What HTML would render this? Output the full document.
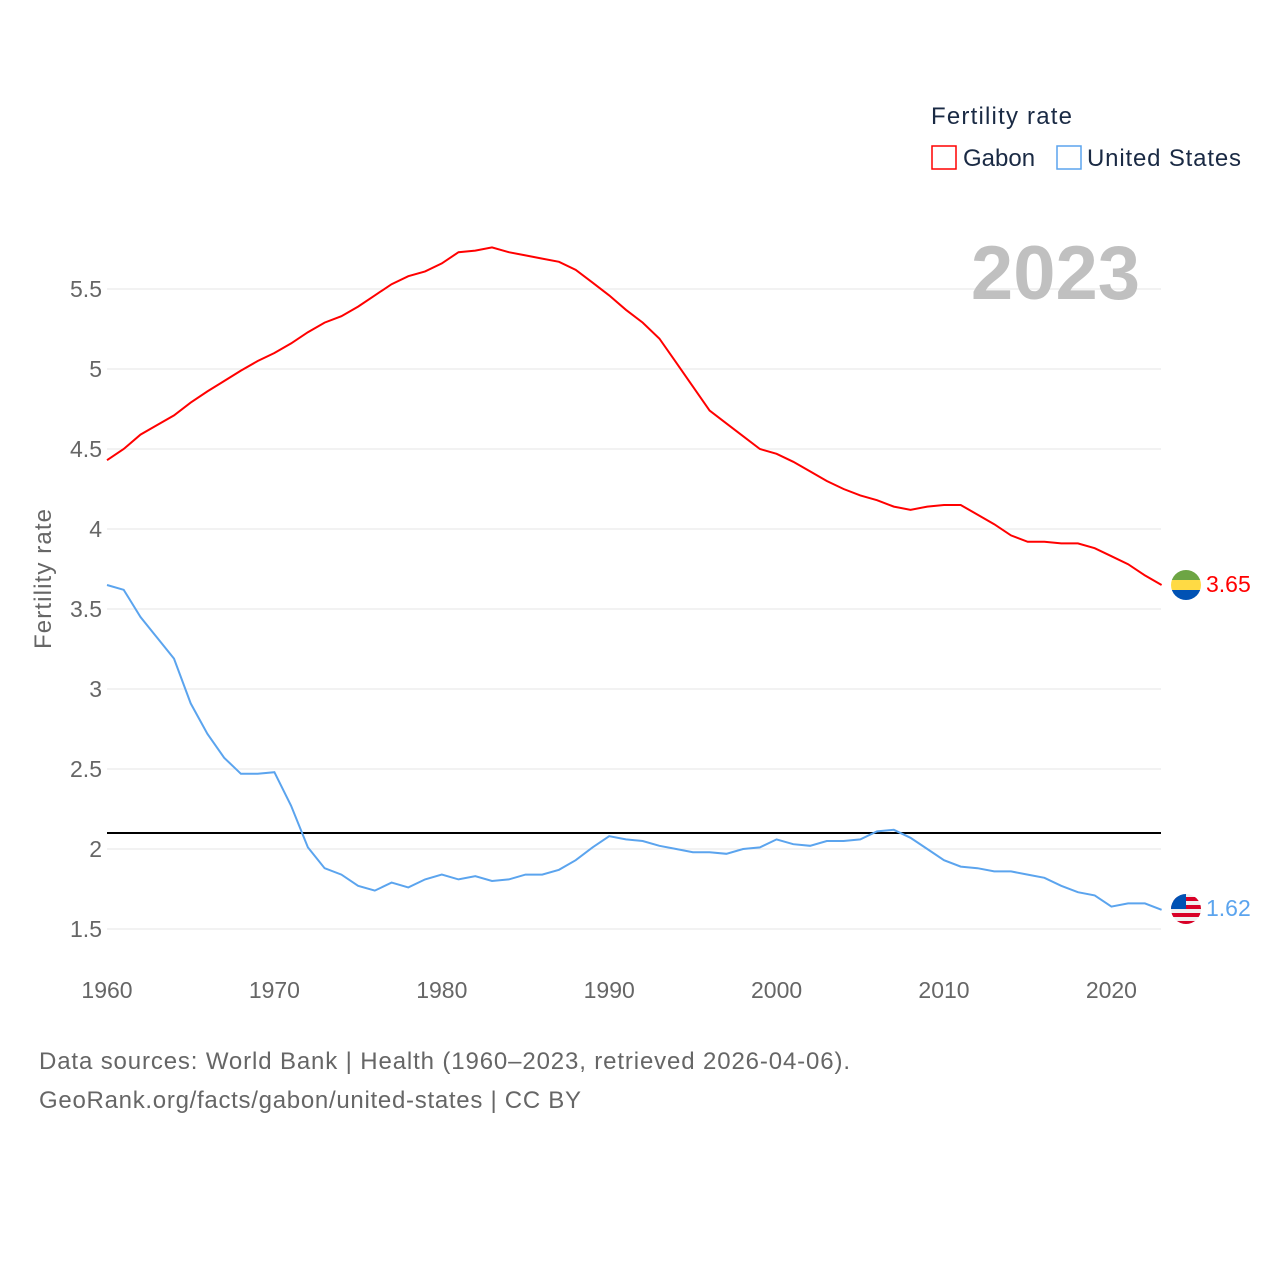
<!DOCTYPE html>
<html><head><meta charset="utf-8">
<style>
body{margin:0;background:#fff;font-family:"Liberation Sans",sans-serif;}
svg text{font-family:"Liberation Sans",sans-serif;}
</style></head>
<body>
<svg width="1280" height="1280" viewBox="0 0 1280 1280">
<g id="grid"></g>
<g id="yticks"></g>
<g id="xticks"></g>
<text x="51" y="579" transform="rotate(-90 51 579)" text-anchor="middle" font-size="24" fill="#666" textLength="140">Fertility rate</text>
<text x="1140" y="299" text-anchor="end" font-size="76" font-weight="bold" fill="#c0c0c0">2023</text>
<line id="refline" x1="107" x2="1161" stroke="#000" stroke-width="2"/>
<path id="gabon" fill="none" stroke="#ff0000" stroke-width="2"/>
<path id="us" fill="none" stroke="#5ba4ee" stroke-width="2"/>
<g>
<clipPath id="cg"><circle cx="1186" cy="585" r="15"/></clipPath>
<g clip-path="url(#cg)"><rect x="1170" y="570" width="32" height="10" fill="#6da544"/><rect x="1170" y="580" width="32" height="10" fill="#ffda44"/><rect x="1170" y="590" width="32" height="12" fill="#0052b4"/></g>
</g>
<text x="1206" y="592" font-size="23" fill="#ff0000">3.65</text>
<g>
<clipPath id="cu"><circle cx="1186" cy="909" r="15"/></clipPath>
<g clip-path="url(#cu)"><rect x="1170" y="893" width="32" height="32" fill="#f0f0f0"/>
<rect x="1170" y="897" width="32" height="4" fill="#d80027"/><rect x="1170" y="905" width="32" height="4" fill="#d80027"/><rect x="1170" y="913" width="32" height="4" fill="#d80027"/><rect x="1170" y="921" width="32" height="4" fill="#d80027"/>
<rect x="1170" y="893" width="16" height="16" fill="#0052b4"/></g>
</g>
<text x="1206" y="916" font-size="23" fill="#5ba4ee">1.62</text>
<text x="931" y="124" font-size="24" fill="#1a2a44" textLength="141">Fertility rate</text>
<g>
<rect x="932" y="146" width="24" height="23" fill="none" stroke="#ff0000" stroke-width="1.5"/>
<text x="963" y="166" font-size="24" fill="#1a2a44">Gabon</text></g>
<g>
<rect x="1057" y="146" width="24" height="23" fill="none" stroke="#5ba4ee" stroke-width="1.5"/>
<text x="1087" y="166" font-size="24" fill="#1a2a44" textLength="154">United States</text></g>
<text x="39" y="1069" font-size="24" fill="#666" textLength="811">Data sources: World Bank | Health (1960–2023, retrieved 2026-04-06).</text>
<text x="39" y="1108" font-size="24" fill="#666" textLength="542">GeoRank.org/facts/gabon/united-states | CC BY</text>
</svg>
<script>
const years=[];for(let y=1960;y<=2023;y++)years.push(y);
const gabon=[4.43,4.5,4.59,4.65,4.71,4.79,4.86,4.925,4.99,5.05,5.1,5.16,5.23,5.29,5.33,5.39,5.46,5.53,5.58,5.61,5.66,5.73,5.74,5.76,5.73,5.71,5.69,5.67,5.62,5.54,5.46,5.37,5.29,5.19,5.04,4.89,4.74,4.66,4.58,4.5,4.47,4.42,4.36,4.3,4.25,4.21,4.18,4.14,4.12,4.14,4.15,4.15,4.09,4.03,3.96,3.92,3.92,3.91,3.91,3.88,3.83,3.78,3.71,3.65];
const us=[3.65,3.62,3.45,3.32,3.19,2.91,2.72,2.57,2.47,2.47,2.48,2.27,2.01,1.88,1.84,1.77,1.74,1.79,1.76,1.81,1.84,1.81,1.83,1.80,1.81,1.84,1.84,1.87,1.93,2.01,2.08,2.06,2.05,2.02,2.0,1.98,1.98,1.97,2.0,2.01,2.06,2.03,2.02,2.05,2.05,2.06,2.11,2.12,2.07,2.0,1.93,1.89,1.88,1.86,1.86,1.84,1.82,1.77,1.73,1.71,1.64,1.66,1.66,1.62];
const yTicks=[1.5,2,2.5,3,3.5,4,4.5,5,5.5];
const xTicks=[1960,1970,1980,1990,2000,2010,2020];
const refValue=2.1;
const X=y=>107+(y-1960)*16.74;
const Y=v=>929-(v-1.5)*160;
const NS="http://www.w3.org/2000/svg";
const grid=document.getElementById('grid'),yt=document.getElementById('yticks'),xt=document.getElementById('xticks');
yTicks.forEach(v=>{
 const l=document.createElementNS(NS,'line');
 l.setAttribute('x1',107);l.setAttribute('x2',1161);l.setAttribute('y1',Y(v));l.setAttribute('y2',Y(v));
 l.setAttribute('stroke','#e6e6e6');l.setAttribute('stroke-width','1');
 
 
 grid.appendChild(l);
 const t=document.createElementNS(NS,'text');
 t.setAttribute('x',102);t.setAttribute('y',Y(v)+8);t.setAttribute('text-anchor','end');
 t.setAttribute('font-size','23');t.setAttribute('fill','#666');t.textContent=String(v);
 
 
 yt.appendChild(t);
});
xTicks.forEach(v=>{
 const t=document.createElementNS(NS,'text');
 t.setAttribute('x',X(v));t.setAttribute('y',998);t.setAttribute('text-anchor','middle');
 t.setAttribute('font-size','23');t.setAttribute('fill','#666');t.textContent=String(v);
 
 
 xt.appendChild(t);
});
const rl=document.getElementById('refline');rl.setAttribute('y1',Y(refValue));rl.setAttribute('y2',Y(refValue));
const path=arr=>arr.map((v,i)=>(i?'L':'M')+X(years[i]).toFixed(1)+' '+Y(v).toFixed(1)).join(' ');
document.getElementById('gabon').setAttribute('d',path(gabon));
document.getElementById('us').setAttribute('d',path(us));
</script>
</body></html>
